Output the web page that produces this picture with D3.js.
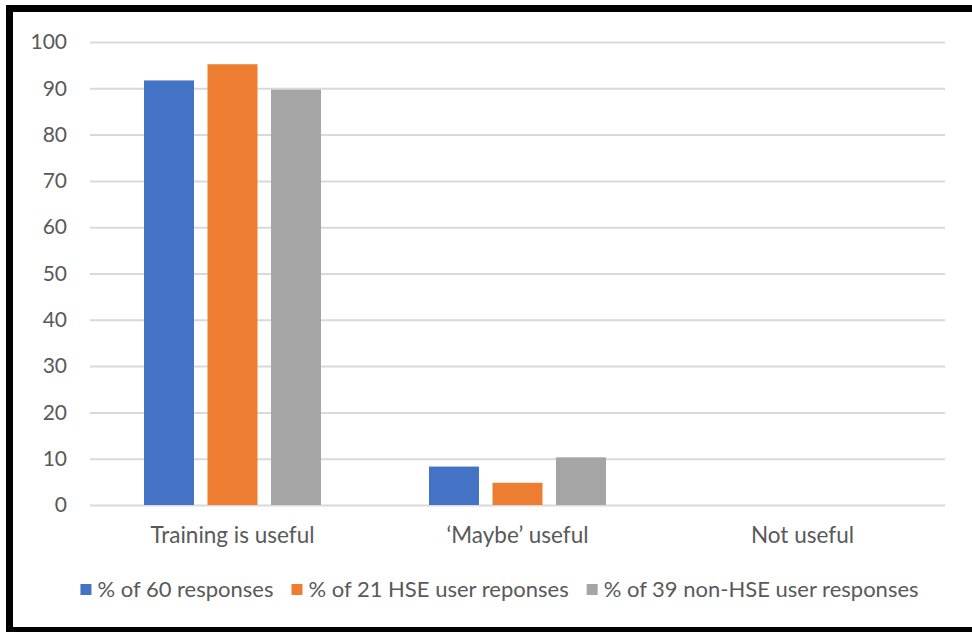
<!DOCTYPE html>
<html lang="en">
<head>
    <meta charset="utf-8" />
    <title>Training usefulness</title>
    <script type="text/javascript" src="https://cdn.jsdelivr.net/npm/d3@7"></script>
    <style type="text/css">
        body { margin: 0; background: #fff; }
        text { font-family: Lato, "Open Sans", sans-serif; fill: #595959; }
    </style>
</head>
<body>
    <script type="text/javascript">
        var categories = ["Training is useful", "\u2018Maybe\u2019 useful", "Not useful"];
        var seriesNames = ["% of 60 responses", "% of 21 HSE user reponses", "% of 39 non-HSE user responses"];
        var allResponses = [91.7, 8.3, 0];
        var hseResponses = [95.2, 4.8, 0];
        var nonHseResponses = [89.7, 10.3, 0];
        var yTicks = [0, 10, 20, 30, 40, 50, 60, 70, 80, 90, 100];
        var colors = ["#4472c4", "#ed7d31", "#a5a5a5"];

        var series = [allResponses, hseResponses, nonHseResponses];
        var w = 972;
        var h = 632;

        var svg = d3.select("body")
            .append("svg")
            .attr("width", w)
            .attr("height", h);

        // outer black frame (right edge falls off the page)
        svg.append("rect")
            .attr("x", 9.5)
            .attr("y", 8.5)
            .attr("width", w + 10)
            .attr("height", 622)
            .attr("fill", "#fff")
            .attr("stroke", "#000")
            .attr("stroke-width", 7);

        var xScale = d3.scaleBand()
            .domain(categories)
            .range([90, 945]);

        var xInner = d3.scaleBand()
            .domain(d3.range(series.length))
            .range([0, 177])
            .paddingInner(0.213);

        var yScale = d3.scaleLinear()
            .domain([0, 100])
            .range([505, 42]);

        // gridlines + tick labels
        var yAxis = d3.axisLeft(yScale)
            .tickValues(yTicks)
            .tickSize(-(945 - 90))
            .tickPadding(23);

        var gy = svg.append("g")
            .attr("transform", "translate(90,0)")
            .call(yAxis);
        gy.select(".domain").remove();
        gy.selectAll(".tick line")
            .attr("stroke", "#d9d9d9")
            .attr("stroke-width", 2);
        gy.selectAll(".tick text")
            .attr("font-size", "21px")
            .attr("font-family", null)
            .style("fill", "#595959");

        // bars
        var groups = svg.selectAll("g.group")
            .data(categories)
            .enter()
            .append("g")
            .attr("class", "group")
            .attr("transform", function(d) {
                var off = (xScale.bandwidth() - 177) / 2;
                return "translate(" + (xScale(d) + off) + ",0)";
            });

        groups.selectAll("rect")
            .data(function(d, ci) {
                return series.map(function(s, si) { return { si: si, v: s[ci] }; });
            })
            .enter()
            .append("rect")
            .attr("x", function(d) { return xInner(d.si); })
            .attr("y", function(d) { return yScale(d.v); })
            .attr("width", xInner.bandwidth())
            .attr("height", function(d) { return yScale(0) - yScale(d.v); })
            .attr("fill", function(d) { return colors[d.si]; });

        // category labels
        svg.selectAll("text.cat")
            .data(categories)
            .enter()
            .append("text")
            .attr("class", "cat")
            .attr("x", function(d) { return xScale(d) + xScale.bandwidth() / 2; })
            .attr("y", 543)
            .attr("text-anchor", "middle")
            .attr("font-size", "22.5px")
            .text(function(d) { return d; });

        // legend, laid out from measured text widths
        var legend = svg.append("g");
        var cursor = 0;
        seriesNames.forEach(function(name, i) {
            legend.append("rect")
                .attr("x", cursor)
                .attr("y", 584)
                .attr("width", 11)
                .attr("height", 11)
                .attr("fill", colors[i]);
            var t = legend.append("text")
                .attr("x", cursor + 17)
                .attr("y", 597)
                .attr("font-size", "22px")
                .text(name);
            cursor += 17 + t.node().getComputedTextLength() + 18;
        });
        var legendWidth = cursor - 18;
        legend.attr("transform", "translate(" + (81 + (837 - legendWidth) / 2) + ",0)");
    </script>
</body>
</html>
